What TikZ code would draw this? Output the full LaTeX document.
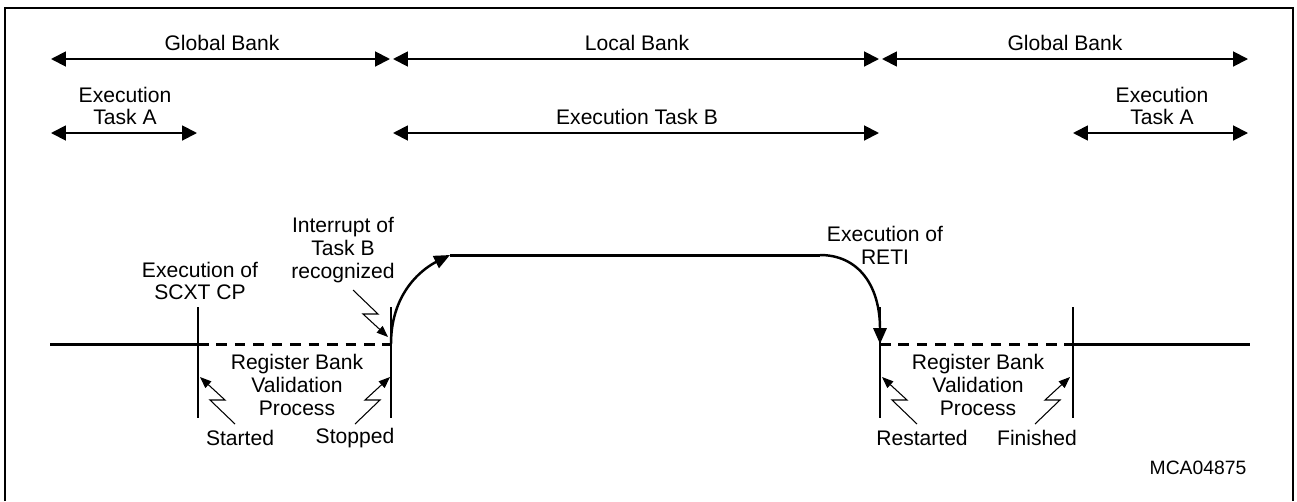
\documentclass[tikz,border=0pt]{standalone}
\usepackage{fontspec}
\setmainfont{Liberation Sans}
\usetikzlibrary{arrows.meta}

\tikzset{
    lbl/.style={font=\fontsize{12}{13}\selectfont, align=center, inner sep=0pt},
    span/.style={line width=1.1pt, {Triangle[length=8.5pt,width=8.5pt]}-{Triangle[length=8.5pt,width=8.5pt]}},
    sig/.style={line width=1.7pt},
    sigdash/.style={sig, dash pattern=on 6pt off 4.5pt},
    tick/.style={line width=1.1pt},
    bolt/.style={line width=0.6pt, -{Triangle[length=6.5pt,width=5pt]}},
    jump/.style={line width=1.4pt, -{Triangle[length=9pt,width=7.5pt]}}
}

\begin{document}
\begin{tikzpicture}[x=0.02cm, y=-0.02cm]
    \useasboundingbox (0,0) rectangle (1297,501);
    % Frame, open at the bottom
    \draw[line width=1.4pt] (5,501) |- (1293,8) -- (1293,501);

    % Bank and task spans
    \foreach \a/\b/\y [count=\i] in {51/390/59, 393/879/59, 882/1248/59,
                                     51/197/133, 393/879/133, 1073/1248/133} {
        \coordinate (s\i a) at (\a,\y);
        \coordinate (s\i b) at (\b,\y);
        \draw[span] (s\i a) -- (s\i b);
    }
    \node[lbl] (glbL) at (222,43) {Global Bank};
    \node[lbl] (lclB) at (637,43) {Local Bank};
    \node[lbl] (glbR) at (1065,43) {Global Bank};
    \node[lbl] (tskAL) at (125,106) {Execution\\Task A};
    \node[lbl] (tskB) at (637,117) {Execution Task B};
    \node[lbl] (tskAR) at (1162,106) {Execution\\Task A};

    % Time line
    \coordinate (t0) at (50,344);
    \coordinate (ta) at (198,344);
    \coordinate (tb) at (391,344);
    \coordinate (tc) at (880,344);
    \coordinate (td) at (1073,344);
    \coordinate (te) at (1250,344);
    \coordinate (up) at (450,255);
    \coordinate (dn) at (820,255);

    \draw[sig] (t0) -- (ta);
    \draw[sigdash] (ta) -- (tb);
    \draw[sigdash] (tc) -- (td);
    \draw[sig] (td) -- (te);
    \foreach \p in {ta,tb,tc,td} {
        \draw[tick] ([yshift=21pt]\p) -- ([yshift=-42pt]\p);
    }

    % Switch to task B and back
    \draw[jump] (tb) .. controls (391,288) and (428,266) .. (up);
    \draw[sig] (up) -- (dn);
    \draw[jump] (dn) .. controls (858,255) and (880,285) .. (tc);

    % Event pointers (d: left/right, v: up/down)
    \foreach \n/\x/\y/\d/\v in {bSt/235/424/-1/-1, bSp/355/424/1/-1, bIr/353/290/1/1,
                                bRs/917/424/-1/-1, bFn/1035/424/1/-1} {
        \coordinate (\n) at (\x,\y);
        \draw[bolt] (\n) -- ++(\d*25,\v*24) -- ++(\d*-15,0) -- ++(\d*25,\v*23);
    }

    \node[lbl] (scxt) at (200,281) {Execution of\\SCXT CP};
    \node[lbl] (intr) at (343,250) {Interrupt of\\Task B\\recognized};
    \node[lbl] (rbvL) at (297,385) {Register Bank\\Validation\\Process};
    \node[lbl] (strt) at (240,438) {Started};
    \node[lbl] (stop) at (355,438) {Stopped};
    \node[lbl] (reti) at (885,245) {Execution of\\RETI};
    \node[lbl] (rbvR) at (978,385) {Register Bank\\Validation\\Process};
    \node[lbl] (rstr) at (922,438) {Restarted};
    \node[lbl] (fini) at (1037,438) {Finished};
    \node[lbl, font=\fontsize{11}{12}\selectfont] (fig) at (1198,468) {MCA04875};
\end{tikzpicture}
\end{document}
